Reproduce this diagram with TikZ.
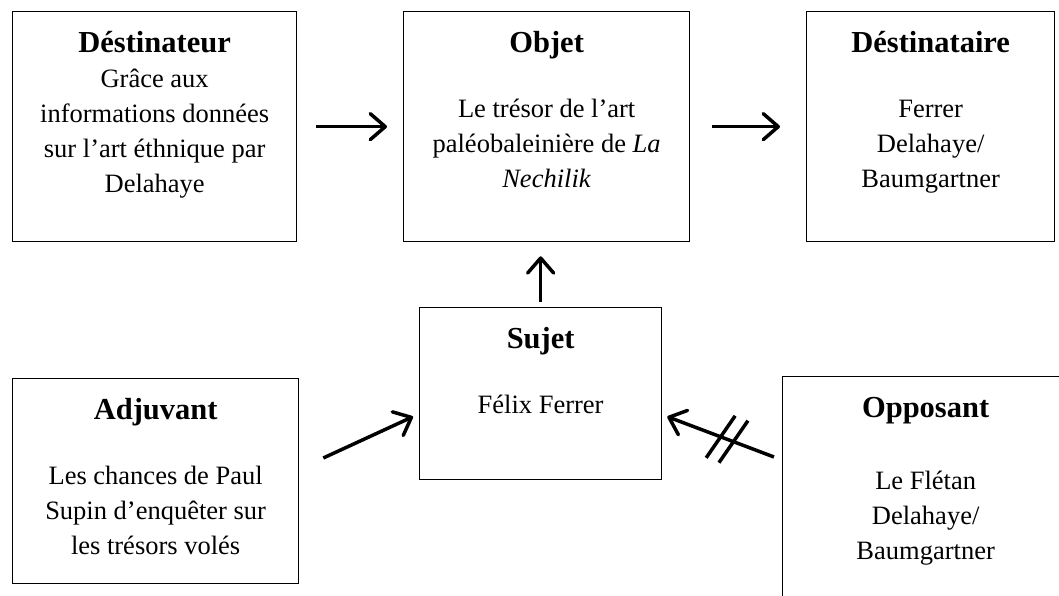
\documentclass[tikz,border=0pt]{standalone}
\usepackage{fontspec}
\setmainfont{Liberation Serif}
\usetikzlibrary{calc}
\usetikzlibrary{arrows.meta}

\newcommand{\boxtext}[3]{\parbox[c][#2][t]{#1}{\centering\fontsize{26.5}{35}\selectfont\rule{0pt}{41pt}#3}}
\newcommand{\actitle}[1]{{\fontsize{30.5}{35}\selectfont\bfseries #1}}

\begin{document}
\begin{tikzpicture}[
      x=1pt, y=-1pt,
      actant/.style={draw, line width=1.3pt, inner sep=0pt, anchor=north west},
      arr/.style={line width=3.5pt, -{Straight Barb[length=15pt,width=26pt,round]}},
      cut/.style={line width=3.5pt}
    ]
    \clip (0,0) rectangle (1059,596);
    \node [actant] (dest) at (12,11) {\boxtext{284pt}{230pt}{\actitle{Déstinateur}\\
      Grâce aux\\ informations données\\ sur l’art éthnique par\\ Delahaye}};
    \node [actant] (objet) at (403,11) {\boxtext{286pt}{230pt}{\actitle{Objet}\\[30pt]
      Le trésor de l’art\\ paléobaleinière de \textit{La}\\ \textit{Nechilik}}};
    \node [actant] (destinataire) at (806,11) {\boxtext{248pt}{230pt}{\actitle{Déstinataire}\\[30pt]
      Ferrer\\ Delahaye/\\ Baumgartner}};
    \node [actant] (sujet) at (419,307) {\boxtext{242pt}{172pt}{\actitle{Sujet}\\[30pt]
      Félix Ferrer}};
    \node [actant] (adjuvant) at (12,378) {\boxtext{286pt}{205pt}{\actitle{Adjuvant}\\[30pt]
      Les chances de Paul\\ Supin d’enquêter sur\\ les trésors volés}};
    \node [actant] (opposant) at (782,376) {\boxtext{286pt}{240pt}{\actitle{Opposant}\\[37pt]
      Le Flétan\\ Delahaye/\\ Baumgartner}};

    \draw [arr, shorten <=19pt, shorten >=16pt] (dest.east) -- (objet.west) ;
    \draw [arr, shorten <=22pt, shorten >=26pt] (objet.east) -- (destinataire.west) ;
    \draw [arr, shorten <=5pt, shorten >=14pt] (sujet.north) -- (sujet.north |- objet.south) ;
    \draw [arr] ($(adjuvant.north east)+(24,80)$) -- ($(sujet.west)+(-6,23)$) ;
    \draw [arr] ($(opposant.north west)+(-8,81)$) -- ($(sujet.east)+(5,23)$)
      coordinate [pos=0.38] (cut1) coordinate [pos=0.5] (cut2) ;
    \draw [cut] (cut1) ++(-14.5,21) -- ++(29,-42) ;
    \draw [cut] (cut2) ++(-14.5,21) -- ++(29,-42) ;
  \end{tikzpicture}
\end{document}
